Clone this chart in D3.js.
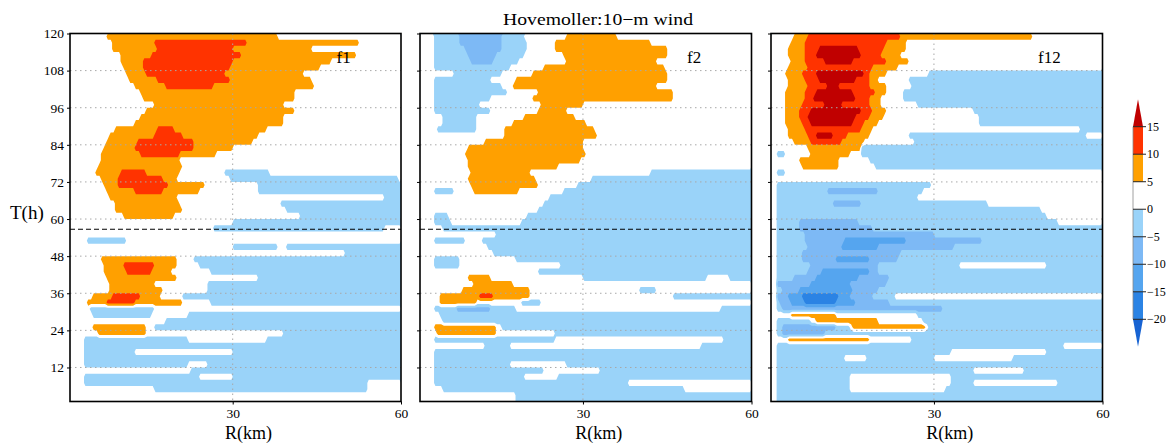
<!DOCTYPE html>
<meta charset="utf-8">
<script src="https://d3js.org/d3.v7.min.js"></script>
<style>
  body { margin: 0; background: #fff; }
  text { font-family: "Liberation Serif", serif; fill: #000; }
</style>
<body>
<div id="chart"></div>
<script>

// 60 rows of 2 h each, from T=120 (top row) down to T=0.
// each row lists segments "<code><R from>-<R to>" in km; later segments paint over earlier ones
// codes: b 0..-5, c -5..-10, d -10..-15, e -15..-20, o 5..10, r 10..15, R >15, unlisted 0..5
var f1Rows = [
  "o7.5-37.8", "o8.7-52.7 r15.9-32.5", "o8.4-43.8 r16.5-30.1", "o9.9-51.8 r15.3-31.3", "o10.2-47.3 r14.1-30.1",
  "o10.5-45.6 r14.1-29.5", "o11-42.6 r14.7-28.3", "o11.4-43.8 r16.4-29.5", "o12.3-44.4 r18.2-26.5", "o13.5-40.8",
  "o14.1-40.8", "o15.9-39", "o14.7-40.8", "o13.5-39", "o12.3-39",
  "o9-36.1 r16.4-19.4", "o8.1-34.3 r15.9-20.9", "o7.5-33.7 r12.9-23", "o6.9-30.1 r12.3-23", "o6.3-27.1 r13.5-20.6",
  "o6.3-20.6", "o5.8-21", "o5.5-20.4 r10-14.7 b28.4-36.7", "o6.4-20 r9.4-17.7 b29.6-59.3", "o7-24.8 r9.4-18.3 b34.3-60",
  "o7.6-24.2 r12.3-17.7 b34.3-60", "o8-20 b57-60", "o8.8-20.7 b38.5-60", "o8.8-21 b39.7-60", "o10.6-19.5 b42-60",
  "b30-60", "b26.6-56.9", "", "b4-11.2", "b30-38 b39.7-60",
  "b50-60", "o6.4-20 b23-60", "o7-20 r10.6-15.9 b24.2-60", "o7-18.9 r11.2-15.3 b26-60", "o7.6-20 b34.3-60",
  "o8.2-15.9 b25.4-60", "o8.1-17.6 b25.4-60", "o5.2-17 r8.7-13.5 b21-60", "o4-21.2 r7.5-12.3 b26-60", "b4.6-15.9",
  "b5.2-15.3 b21.8-60", "b18.2-60", "o5.2-14.7 b15.9-60", "o5.8-14.7 b39-60", "b3.4-21.8 b36-60",
  "b3.4-60", "b3.4-12.3 b30-60", "b3.4-60", "b3.4-21.8 b25.4-60", "b22.4-60",
  "b3.4-24.2 b30-60", "b3.4-53.9", "b15.9-53.9", "", ""
];

var f2Rows = [
  "b3.4-19.7 c8.1-15.3 o27.1-36.1", "b3.4-19.9 c8.1-15.3 o24.8-42", "b3.4-19.9 c9-15.3 o24.8-45", "b3.4-19.7 c9.3-14.7 o26.5-45", "b3.4-18.5 c9.9-14.1 o27.1-43.2",
  "b3.4-16.8 o23-44.4", "b7-15.3 o21.2-45", "b3.4-13.5 o17.9-45", "b3.4-15.3 o17.6-43.2", "b3.4-16.5 o21.8-46.2",
  "b3.4-13.5 o21.2-46.2", "b3.4-11.7 o22.4-30.1", "b3.4-13.5 o22-27", "b5.2-11.1 o19.4-28.3", "b5.2-11.1 o17.6-30.7",
  "b4-11.1 o16.2-31.9", "o15.9-32.5", "o12.3-30.1", "o9.3-30.1", "o9-30.7",
  "o9.3-29.5", "o9.4-25.4", "o10-20.7 b42-60", "o9.4-21.3 b31.4-60", "o10-21.8 b29-60",
  "b3.4-7 o10.6-18.3 b26.6-60", "b24.2-60", "b23-60", "b21.8-60", "b3.4-5.8 b20-60",
  "b3.4-6.4 b19-60", "b5.2-60", "b14.7-60", "b3.4-9 b12-60", "b13-60",
  "b14.1-60", "b3.4-8.2 b18-60", "b3.4-8.2 b26-60", "b22-60", "o9.4-13.5 b30-52 b56-60",
  "o10.6-17.7", "o8.7-20.6 b40-43", "o4.6-20.6 r11.7-14.1 b46-60", "o4.3-11.1 b18.8-22.4", "b3.4-18.2 c7.5-13.5 b54.5-60",
  "b4.6-60", "b5.2-60", "o3.7-14.7 b15.3-60", "o4-14.7 b24.8-60", "b3.4-24.8 b55-60",
  "b12.3-17 b51-60", "b3.4-60", "b3.4-60", "b3.4-17 b27.1-60", "b3.4-23 b33.1-60",
  "b3.4-19.4 b25.4-60", "b3.4-37.8", "b5.2-48", "b18.2-60", "b18.2-60"
];

var f12Rows = [
  "o5.2-47.4 r7.5-24.2", "o4.3-25.1 r7-21.3", "o4-24.8 r7-21 R9.4-16.5", "o4-24.2 r7-20.7 R9.1-17.1", "o4.3-25.4 r7-21.3 R10.3-15.6",
  "o4-23.6 r7.3-18.9", "o3.7-21.3 r6.7-18.3 R9.1-17.7 b29-60", "o4-20.1 r7-18.3 R9.4-15.9 b25.7-60", "o4-21.3 r7.3-18.3 R11-13 b26-60", "o3.7-21.3 r7-19.5 R8.8-15.3 b24.5-60",
  "o3.7-20.7 r7-18.3 R8.5-16.2 b24.5-60", "o3.7-20.7 r6.4-18.3 R10.5-13.5 b27-60", "o3.4-21.3 r6.1-18.9 R7.9-17.1 b37-60", "o3.7-21 r6.1-18.3 R7.6-16.2 b38-60", "o3.7-20.1 r6.4-17.7 R8.2-15.3 b38-60",
  "o4-18.9 r7-17.1 b56-60", "o4-18.3 r7.6-14.7 R8.8-11.8 b25.4-57", "o5.2-17.7 r8.2-13.5 b26.6-60", "o7.6-18.3 b17-60", "b2.2-3.4 o8.2-15 b17.1-60",
  "o6.1-13.2 b18.3-60", "o6.4-13.2 b19.5-60", "b2.2-3.4", "", "b2.2-29.6",
  "b2.2-28 c11-20", "b2.2-27", "b2.2-39.5 c12-17", "b2.2-49", "b2.2-49.8",
  "b2.2-52 c5.8-16.5", "b2.2-60 c5.8-18.9", "b2.2-60 c7-30", "b2.2-60 c7-38.5 d14-24.8", "b2.2-60 c7.6-33.7 d13.5-20",
  "b2.2-60 c6.4-24.2", "b2.2-60 c6.4-23.6 d12.3-18.3", "b2.2-34.3 b49.8-60 c8.2-20", "b2.2-60 c7.6-20 d10-18.3", "b2.2-60 c5.2-21.8 d8.8-16.5",
  "b2.2-60 c2.2-21.3 d8-15", "b2.2-60 c2.8-20 d5.8-15.3", "b2.2-23 c2.2-19 d4-15 e6.4-13", "b2.2-60 c2.5-21.8 d4.6-15.9 e7-12.3", "b2.2-60 c2.8-31.4",
  "o4.6-12.3 b27-60", "b2.2-8.2 o8.8-20 b27.8-60", "b2.2-15 c2.8-12.3 o15.3-28.4 b29-60", "b2.2-60 c2.8-10.6", "o4-18.3 b26-60",
  "b2.2-53", "b2.2-33 b50-60", "b2.2-14 b18-30 b44-60", "b2.2-60", "b2.2-37 b46-60",
  "b2.2-15 b33-60", "b2.2-15 b33-37 b52-60", "b2.2-15 b32-60", "b2.2-60", "b2.2-60"
];

var panelNames = ["f1", "f2", "f12"];
var levels = [-20, -15, -10, -5, 0, 5, 10, 15];
var levelLabels = ["-20", "-15", "-10", "-5", "0", "5", "10", "15"];
// colour below -20, then one colour per band above each level
var bandColors = ["#1763d3", "#2b83e4", "#55a5ef", "#7db9f5", "#9ad3f9", "#ffffff", "#ffa000", "#ff3300", "#c00000"];
var codeValues = { f: -22.5, e: -17.5, d: -12.5, c: -7.5, b: -2.5, o: 7.5, r: 12.5, R: 17.5 };
var tTicks = [12, 24, 36, 48, 60, 72, 84, 96, 108, 120];
var rTicks = [30, 60];
var markT = 56.7;

var perKm = 2;               // grid cells per km along R
var nx = 59 * perKm, ny = 60;
var W = 1170, H = 444;
var plotTop = 33.5, plotBottom = 401.5;
var panelX = [[70, 401], [420, 751.5], [771, 1102.5]];

var svg = d3.select("#chart").append("svg")
  .attr("width", W).attr("height", H);

var defs = svg.append("defs");

function buildGrid(rows) {
  var v = new Array(nx * ny).fill(2.5);
  rows.forEach(function(s, k) {
    if (!s) return;
    s.split(" ").forEach(function(seg) {
      var code = seg[0];
      var ab = seg.slice(1).split("-").map(Number);
      for (var j = 0; j < nx; j++) {
        var r = 1 + (j + 0.5) / perKm;
        if (r >= ab[0] && r <= ab[1]) v[k * nx + j] = codeValues[code];
      }
    });
  });
  return v;
}

var y = d3.scaleLinear().domain([1, 120]).range([plotBottom, plotTop]);

[f1Rows, f2Rows, f12Rows].forEach(function(rows, p) {
  var x = d3.scaleLinear().domain([1, 60]).range(panelX[p]);
  var g = svg.append("g");

  defs.append("clipPath").attr("id", "clip" + p)
    .append("rect")
      .attr("x", panelX[p][0]).attr("y", plotTop)
      .attr("width", panelX[p][1] - panelX[p][0]).attr("height", plotBottom - plotTop);

  var proj = d3.geoTransform({
    point: function(gx, gy) {
      this.stream.point(x(1 + gx / perKm), y(120 - gy * 2));
    }
  });
  var path = d3.geoPath(proj);

  var contours = d3.contours().size([nx, ny]).thresholds(levels)(buildGrid(rows));

  var fills = g.append("g").attr("clip-path", "url(#clip" + p + ")");
  contours.forEach(function(c, i) {
    fills.append("path")
      .attr("d", path(c))
      .attr("fill", bandColors[i + 1]);
  });

  // dotted grid
  g.append("g").selectAll("line.h")
    .data(tTicks.filter(function(t) { return t < 120; }))
    .enter().append("line")
      .attr("x1", panelX[p][0]).attr("x2", panelX[p][1])
      .attr("y1", function(d) { return y(d); }).attr("y2", function(d) { return y(d); })
      .style("stroke", "#a8a8a8").style("stroke-width", 1)
      .style("stroke-dasharray", "1.5,3.5");
  g.append("line")
    .attr("x1", x(30)).attr("x2", x(30))
    .attr("y1", plotTop).attr("y2", plotBottom)
    .style("stroke", "#a8a8a8").style("stroke-width", 1)
    .style("stroke-dasharray", "1.5,3.5");

  // dashed marker line
  g.append("line")
    .attr("x1", panelX[p][0]).attr("x2", panelX[p][1])
    .attr("y1", y(markT)).attr("y2", y(markT))
    .style("stroke", "#000").style("stroke-width", 1)
    .style("stroke-dasharray", "5,3");

  // frame
  g.append("rect")
    .attr("x", panelX[p][0]).attr("y", plotTop)
    .attr("width", panelX[p][1] - panelX[p][0]).attr("height", plotBottom - plotTop)
    .style("fill", "none").style("stroke", "#000").style("stroke-width", 1.6);

  // axes
  var ya = g.append("g")
    .attr("transform", "translate(" + panelX[p][0] + ",0)")
    .call(d3.axisLeft(y).tickValues(tTicks).tickSize(3).tickPadding(3)
      .tickFormat(p === 0 ? d3.format("d") : function() { return ""; }));
  ya.select(".domain").remove();
  ya.selectAll("text").style("font-size", "13.5px").style("font-family", "Liberation Serif");

  var xa = g.append("g")
    .attr("transform", "translate(0," + plotBottom + ")")
    .call(d3.axisBottom(x).tickValues(rTicks).tickSize(3).tickPadding(4));
  xa.select(".domain").remove();
  xa.selectAll("text").style("font-size", "13.5px").style("font-family", "Liberation Serif");

  g.append("text")
    .attr("x", (panelX[p][0] + panelX[p][1]) / 2 + 13)
    .attr("y", 439)
    .attr("text-anchor", "middle")
    .style("font-size", "18px")
    .text("R(km)");

  g.append("text")
    .attr("x", panelX[p][1] - 64.5)
    .attr("y", 63)
    .style("font-size", "17px")
    .text(panelNames[p]);
});

svg.append("text")
  .attr("x", 10).attr("y", 219)
  .style("font-size", "19px")
  .text("T(h)");

svg.append("text")
  .attr("x", 598).attr("y", 25)
  .attr("text-anchor", "middle")
  .attr("textLength", 190)
  .attr("lengthAdjust", "spacingAndGlyphs")
  .style("font-size", "16.5px")
  .text("Hovemoller:10\u2212m wind");

// colour bar
var cb = d3.scaleLinear().domain([15, -20]).range([126.7, 319.3]);
var cbx0 = 1133, cbx1 = 1143;
var bar = svg.append("g");
for (var i = 0; i < levels.length - 1; i++) {
  bar.append("rect")
    .attr("x", cbx0).attr("y", cb(levels[i + 1]))
    .attr("width", cbx1 - cbx0).attr("height", cb(levels[i]) - cb(levels[i + 1]))
    .style("fill", bandColors[i + 1]);
}
bar.append("path")
  .attr("d", "M" + cbx0 + "," + cb(15) + "L" + (cbx0 + cbx1) / 2 + "," + (cb(15) - 27.5) + "L" + cbx1 + "," + cb(15) + "Z")
  .style("fill", bandColors[8]);
bar.append("path")
  .attr("d", "M" + cbx0 + "," + cb(-20) + "L" + (cbx0 + cbx1) / 2 + "," + (cb(-20) + 27.5) + "L" + cbx1 + "," + cb(-20) + "Z")
  .style("fill", bandColors[0]);
bar.append("line")
  .attr("x1", cbx0).attr("x2", cbx0).attr("y1", cb(15)).attr("y2", cb(-20))
  .style("stroke", "#888").style("stroke-width", 0.8);
bar.selectAll("line.lv")
  .data(levels).enter().append("line")
    .attr("x1", cbx0).attr("x2", cbx1 + 3)
    .attr("y1", function(d) { return cb(d); }).attr("y2", function(d) { return cb(d); })
    .style("stroke", "#222").style("stroke-width", 1);
bar.selectAll("text")
  .data(levels).enter().append("text")
    .attr("x", 1147)
    .attr("y", function(d) { return cb(d) + 4; })
    .style("font-size", "12px")
    .text(function(d, i) { return levelLabels[i].replace("-", "\u2212"); });

</script>
</body>
